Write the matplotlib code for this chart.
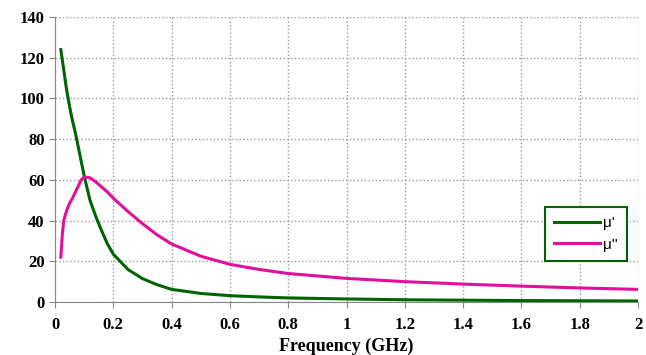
import matplotlib.pyplot as plt

# permeability spectrum, values
freq = [0.02, 0.025, 0.03, 0.04, 0.05, 0.06, 0.07, 0.08, 0.09, 0.10, 0.12, 0.14,
        0.16, 0.18, 0.20, 0.25, 0.30, 0.35, 0.40, 0.50, 0.60, 0.70, 0.80, 1.00,
        1.20, 1.40, 1.60, 1.80, 2.00]
mu_real = [124, 119, 114, 104, 96, 89, 83, 76, 69, 62, 50, 42,
           35, 28.5, 23.5, 16, 11.5, 8.5, 6.2, 4.2, 3.1, 2.5, 2.0, 1.5,
           1.1, 0.9, 0.7, 0.6, 0.5]
mu_imag = [22, 33, 40, 45, 48.5, 51, 54, 57, 60, 61.5, 61, 59,
           56.5, 54, 51, 44.5, 38.5, 33, 28.5, 22.5, 18.5, 16, 14, 11.6,
           10, 8.8, 7.8, 6.9, 6.2]

plt.rcParams['font.family'] = ['Liberation Serif', 'DejaVu Serif']

fig = plt.figure(figsize=(6.46, 3.55), dpi=100)
ax = fig.add_axes([55 / 646, 1 - 302 / 355, 583 / 646, 285 / 355])

ax.plot(freq, mu_real, color='#006400', linewidth=2.2, label="μ'")
ax.plot(freq, mu_imag, color='#e0109a', linewidth=2.2, label="μ''")

ax.set_xlim(0, 2)
ax.set_ylim(0, 140)
ax.set_xticks([0, 0.2, 0.4, 0.6, 0.8, 1, 1.2, 1.4, 1.6, 1.8, 2])
ax.set_xticklabels(['0', '0.2', '0.4', '0.6', '0.8', '1', '1.2', '1.4', '1.6', '1.8', '2'])
ax.set_yticks(range(0, 141, 20))
ax.grid(True, color='#999999', linestyle=':', linewidth=1)
ax.set_axisbelow(True)

for side in ['top', 'right']:
    ax.spines[side].set_visible(False)
ax.spines['left'].set_color('#888888')
ax.spines['bottom'].set_color('#888888')
ax.tick_params(axis='both', colors='#888888', length=4, labelcolor='black',
               labelsize=12)
ax.tick_params(axis='x', pad=7)
for lbl in ax.get_xticklabels() + ax.get_yticklabels():
    lbl.set_fontweight('bold')

ax.set_xlabel('Frequency (GHz)', fontsize=13, fontweight='bold', labelpad=3)

leg = ax.legend(loc='upper left', bbox_to_anchor=(490 / 583, (302 - 207) / 285),
                frameon=True, fancybox=False, handlelength=3.0,
                prop={'family': 'Liberation Sans', 'size': 11},
                borderpad=0.6, labelspacing=0.5, handletextpad=0.2,
                borderaxespad=0)
leg.get_frame().set_edgecolor('#006400')
leg.get_frame().set_linewidth(1.5)
leg.get_frame().set_alpha(1)

fig.savefig('out.png', dpi=100)
